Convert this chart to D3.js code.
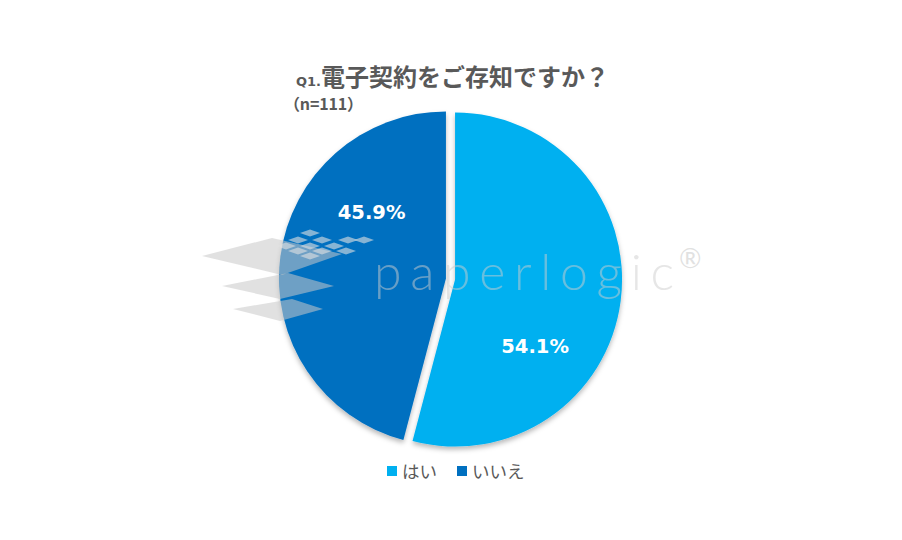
<!DOCTYPE html>
<html><head><meta charset="utf-8">
<script src="https://cdn.jsdelivr.net/npm/d3@7/dist/d3.min.js"></script>
<style>body{margin:0;background:#fff}svg{display:block}</style>
</head><body><svg id="c" width="902" height="540"></svg>
<script>
const categories = ["はい", "いいえ"];
const values = [54.1, 45.9];
const labels = ["54.1%", "45.9%"];
const colors = ["#00B0F0", "#0070C0"];
const titlePrefix = "Q1.";
const titleText = "電子契約をご存知ですか？";
const subtitle = "（n=111）";

const svg = d3.select("#c");
const cx = 450.5, cy = 279, R = 167, explode = 4.6;
const font = "'Noto Sans CJK JP', 'Noto Sans', sans-serif";

const defs = svg.append("defs");
const f = defs.append("filter").attr("id","sh").attr("x","-20%").attr("y","-20%").attr("width","140%").attr("height","140%");
f.append("feDropShadow").attr("dx",0).attr("dy",3).attr("stdDeviation",2.5).attr("flood-color","#000").attr("flood-opacity",0.28);

const pie = d3.pie().sort(null).value(d => d)(values);
const arc = d3.arc().innerRadius(0).outerRadius(R);
const g = svg.append("g").attr("transform", `translate(${cx},${cy})`);
const slices = g.selectAll("g.s").data(pie).join("g").attr("class","s")
  .attr("transform", d => {
    const a = (d.startAngle + d.endAngle) / 2;
    return `translate(${Math.sin(a)*explode},${-Math.cos(a)*explode})`;
  });
slices.append("path").attr("d", arc).attr("fill", (d,i) => colors[i]).attr("filter","url(#sh)");

const labelFrac = [0.666, 0.707], labelRad = [0.623, 0.595];
slices.append("text")
  .attr("transform", (d,i) => {
    const ang = d.startAngle + (d.endAngle-d.startAngle)*labelFrac[i];
    const rr = R*labelRad[i];
    return `translate(${Math.sin(ang)*rr},${-Math.cos(ang)*rr})`;
  })
  .attr("text-anchor","middle").attr("dy","0.36em")
  .attr("font-family", "'DejaVu Sans', Verdana, sans-serif").attr("font-weight","bold").attr("font-size",19.5)
  .attr("fill","#fff").text((d,i) => labels[i]);

// watermark
const wm = svg.append("g");
const sheetFill = "rgba(200,200,200,0.55)";
const sheets = [
  [[202,256],[272,238],[342,254],[282,275]],
  [[222,286],[288,273],[334,286],[280,299]],
  [[233,309],[292,299],[323,309],[280,321]]
];
wm.selectAll("polygon.sh").data(sheets).join("polygon").attr("class","sh")
  .attr("points", d => d.map(p => p.join(",")).join(" ")).attr("fill", sheetFill);
const dia = [[310,233],[298,240],[322,240],[348,240],[364,240],[286,246],[310,246],[334,246],[298,251],[322,251],[346,251],[310,256]];
wm.selectAll("polygon.d").data(dia).join("polygon").attr("class","d")
  .attr("points", d => `${d[0]-10},${d[1]} ${d[0]},${d[1]-3.5} ${d[0]+10},${d[1]} ${d[0]},${d[1]+3.5}`)
  .attr("fill","rgba(225,225,225,0.6)");
wm.append("text").attr("x",374).attr("y",290)
  .attr("font-family","Lato, 'Open Sans', sans-serif").attr("font-weight",300).attr("font-size",50)
  .attr("textLength",300).attr("lengthAdjust","spacing")
  .attr("fill","rgba(205,205,205,0.5)").text("paperlogic");
wm.append("text").attr("x",679).attr("y",268)
  .attr("font-family","Lato, sans-serif").attr("font-weight",400).attr("font-size",27)
  .attr("fill","rgba(205,205,205,0.6)").text("®");

// titles
const t = svg.append("text").attr("x",296).attr("y",86).attr("fill","#595959").attr("font-family",font).attr("font-weight","bold");
t.append("tspan").attr("font-family","'DejaVu Sans', Verdana, sans-serif").attr("font-size",13).text(titlePrefix);
t.append("tspan").attr("font-size",24).text(titleText);
svg.append("text").attr("x",284).attr("y",110).attr("fill","#595959").attr("font-family",font)
  .attr("font-weight","bold").attr("font-size",16).attr("textLength",79).text(subtitle);

// legend
const legX = [387, 457];
const lg = svg.selectAll("g.lg").data(categories).join("g").attr("class","lg")
  .attr("transform",(d,i)=>`translate(${legX[i]},466)`);
lg.append("rect").attr("x",0).attr("y",0).attr("width",10).attr("height",10).attr("fill",(d,i)=>colors[i]);
lg.append("text").attr("x",15).attr("y",11.5).attr("font-family",font).attr("font-size",17.5).attr("fill","#595959").text(d=>d);
</script></body></html>
